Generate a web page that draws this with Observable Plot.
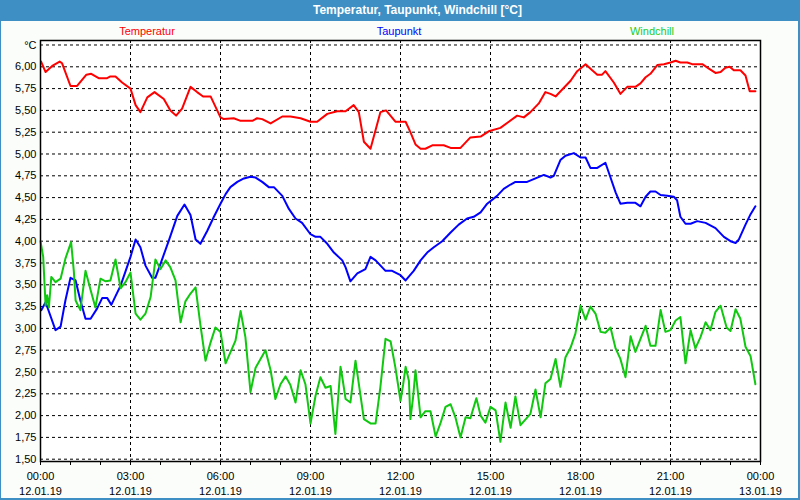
<!DOCTYPE html>
<html>
<head>
<meta charset="utf-8">
<script src="https://cdn.jsdelivr.net/npm/d3@7"></script>
<script src="https://cdn.jsdelivr.net/npm/@observablehq/plot@0.6"></script>
<style>
  html, body { margin: 0; padding: 0; }
  body { width: 800px; height: 500px; position: relative; overflow: hidden; background: #fafdfa; font-family: "Liberation Sans", Arial, sans-serif; }
  #titlebar { position: absolute; left: 0; top: 0; width: 800px; height: 21px; background: #3d8fc4; }
  #title { position: absolute; left: 313px; top: 3px; color: #ffffff; font: bold 12px "Liberation Sans", Arial, sans-serif; white-space: nowrap; }
  #border { position: absolute; left: 0; top: 0; width: 800px; height: 500px; box-sizing: border-box; border-left: 1px solid #3d8fc4; border-right: 2px solid #3d8fc4; border-bottom: 2px solid #3d8fc4; pointer-events: none; }
  .leg { position: absolute; top: 25px; font-size: 11px; white-space: nowrap; transform: translateX(-50%); }
  #chart { position: absolute; left: 0; top: 0; }
</style>
</head>
<body>
<div id="titlebar"><span id="title">Temperatur, Taupunkt, Windchill [°C]</span></div>
<div id="legend"></div>
<div id="chart"></div>
<div id="border"></div>
<script>
// ---- data (hours after 00:00 on 12.01.19, °C) ----
const seriesNames = ["Temperatur", "Taupunkt", "Windchill"];
const seriesColors = ["#ff0000", "#0000ff", "#10c810"];

const tempHours = [0.02,0.17,0.39,0.64,0.72,1.0,1.22,1.53,1.69,1.94,2.22,2.33,2.5,2.72,3.0,3.17,3.33,3.56,3.8,4.11,4.33,4.52,4.72,5.0,5.22,5.42,5.67,6.0,6.11,6.44,6.67,7.06,7.22,7.39,7.67,8.06,8.33,8.67,9.0,9.22,9.56,9.89,10.17,10.44,10.61,10.78,11.0,11.33,11.52,11.83,12.17,12.33,12.5,12.67,12.83,13.06,13.44,13.67,14.0,14.33,14.67,14.94,15.33,15.61,15.89,16.11,16.33,16.61,16.83,17.0,17.17,17.39,17.67,17.89,18.17,18.39,18.56,18.72,18.83,19.11,19.33,19.56,19.83,20.0,20.17,20.33,20.56,20.78,21.0,21.17,21.33,21.56,21.72,22.06,22.28,22.5,22.67,22.83,22.97,23.11,23.33,23.5,23.64,23.83];
const tempValues = [6.06,5.94,6.01,6.06,6.04,5.78,5.78,5.91,5.92,5.87,5.87,5.89,5.89,5.82,5.75,5.56,5.48,5.65,5.71,5.63,5.50,5.44,5.52,5.77,5.71,5.66,5.66,5.42,5.40,5.41,5.38,5.38,5.41,5.40,5.35,5.43,5.43,5.41,5.37,5.37,5.46,5.49,5.49,5.56,5.48,5.14,5.06,5.48,5.50,5.37,5.37,5.25,5.11,5.06,5.06,5.10,5.10,5.07,5.07,5.19,5.20,5.26,5.30,5.37,5.44,5.42,5.48,5.58,5.71,5.69,5.66,5.74,5.84,5.95,6.03,5.96,5.91,5.91,5.95,5.82,5.69,5.77,5.77,5.81,5.88,5.92,6.02,6.03,6.05,6.07,6.05,6.05,6.03,6.03,5.98,5.93,5.94,5.99,6.00,5.96,5.96,5.90,5.72,5.72];

const dewHours = [0.03,0.17,0.5,0.67,0.83,1.0,1.17,1.33,1.5,1.67,1.89,2.06,2.22,2.36,2.67,3.0,3.17,3.33,3.5,3.72,3.83,4.0,4.28,4.56,4.8,5.0,5.17,5.33,5.56,5.78,6.0,6.17,6.33,6.56,6.78,7.0,7.17,7.39,7.61,7.78,8.06,8.28,8.5,8.72,9.0,9.17,9.33,9.56,9.78,10.06,10.17,10.33,10.56,10.83,11.0,11.17,11.5,11.72,12.0,12.17,12.44,12.67,12.89,13.11,13.39,13.67,13.94,14.22,14.44,14.67,14.89,15.22,15.44,15.67,15.83,16.22,16.5,16.78,17.0,17.11,17.33,17.5,17.78,18.0,18.17,18.33,18.56,18.83,19.0,19.17,19.33,19.56,19.83,20.0,20.17,20.33,20.5,20.67,20.89,21.11,21.22,21.33,21.5,21.67,21.89,22.17,22.5,22.78,23.0,23.17,23.28,23.5,23.67,23.83];
const dewValues = [3.21,3.30,2.98,3.02,3.32,3.58,3.55,3.32,3.11,3.11,3.23,3.35,3.35,3.27,3.49,3.82,4.02,3.93,3.72,3.58,3.58,3.74,4.01,4.29,4.42,4.30,4.02,3.97,4.12,4.28,4.43,4.54,4.62,4.68,4.72,4.74,4.73,4.68,4.62,4.62,4.52,4.37,4.26,4.21,4.08,4.05,4.05,3.97,3.87,3.78,3.70,3.54,3.63,3.68,3.82,3.78,3.66,3.66,3.61,3.55,3.66,3.78,3.87,3.93,4.00,4.10,4.19,4.26,4.28,4.33,4.43,4.52,4.60,4.65,4.68,4.68,4.72,4.76,4.73,4.75,4.93,4.98,5.01,4.96,4.96,4.84,4.84,4.90,4.73,4.56,4.43,4.44,4.44,4.40,4.51,4.57,4.57,4.53,4.52,4.51,4.47,4.28,4.20,4.20,4.23,4.21,4.15,4.05,4.00,3.98,4.02,4.19,4.31,4.40];

const chillHours = [0.0,0.09,0.17,0.22,0.28,0.36,0.5,0.67,0.83,1.02,1.11,1.17,1.33,1.5,1.67,1.83,2.0,2.17,2.33,2.5,2.67,2.83,3.0,3.17,3.33,3.5,3.67,3.83,4.0,4.17,4.33,4.5,4.67,4.83,5.0,5.17,5.33,5.5,5.67,5.83,6.0,6.17,6.5,6.67,6.83,7.0,7.17,7.5,7.67,7.83,8.0,8.17,8.33,8.5,8.67,8.83,9.0,9.17,9.33,9.5,9.67,9.83,10.0,10.06,10.17,10.33,10.5,10.78,11.0,11.17,11.33,11.5,11.67,11.83,12.0,12.09,12.17,12.28,12.33,12.42,12.5,12.67,12.83,13.0,13.17,13.33,13.5,13.67,13.83,14.0,14.17,14.33,14.53,14.67,14.83,15.0,15.17,15.33,15.5,15.67,15.83,16.0,16.33,16.5,16.67,16.83,17.0,17.17,17.33,17.5,17.67,17.83,18.0,18.17,18.33,18.5,18.67,18.83,19.0,19.17,19.33,19.5,19.67,19.83,20.0,20.17,20.33,20.5,20.67,20.83,21.0,21.17,21.33,21.5,21.67,21.83,22.0,22.17,22.33,22.5,22.67,22.87,23.0,23.17,23.33,23.5,23.67,23.83];
const chillValues = [4.00,3.82,3.26,3.38,3.24,3.59,3.53,3.57,3.80,3.99,3.66,3.32,3.21,3.66,3.44,3.24,3.57,3.54,3.55,3.79,3.46,3.53,3.64,3.17,3.10,3.17,3.36,3.79,3.68,3.78,3.70,3.55,3.07,3.31,3.40,3.47,3.04,2.63,2.84,3.01,2.96,2.60,2.86,3.20,2.90,2.27,2.55,2.75,2.52,2.19,2.36,2.45,2.35,2.15,2.52,2.36,1.91,2.23,2.44,2.32,2.34,1.79,2.56,2.44,2.19,2.15,2.63,1.96,1.91,1.91,2.33,2.88,2.85,2.55,2.17,2.36,2.56,2.40,1.96,2.21,2.52,1.98,2.05,2.05,1.76,1.91,2.10,2.13,1.98,1.75,1.98,1.97,2.20,2.00,1.92,2.10,2.06,1.70,2.15,1.86,2.22,1.89,2.02,2.30,1.98,2.37,2.42,2.65,2.33,2.67,2.78,2.94,3.26,3.10,3.25,3.17,2.96,2.95,3.01,2.77,2.65,2.44,2.91,2.73,2.88,3.03,2.80,2.80,3.21,2.96,2.98,3.09,3.13,2.60,2.98,2.77,2.90,3.07,2.98,3.19,3.26,3.01,2.97,3.22,3.11,2.79,2.68,2.36];

// ---- axis ticks / labels ----
const hourTicks = [0,1,2,3,4,5,6,7,8,9,10,11,12,13,14,15,16,17,18,19,20,21,22,23,24];
const labelHours = [0,3,6,9,12,15,18,21,24];
const labelTimes = ["00:00","03:00","06:00","09:00","12:00","15:00","18:00","21:00","00:00"];
const labelDates = ["12.01.19","12.01.19","12.01.19","12.01.19","12.01.19","12.01.19","12.01.19","12.01.19","13.01.19"];
const xGridHours = [3,6,9,12,15,18,21];
const yTicks = [1.5,1.75,2.0,2.25,2.5,2.75,3.0,3.25,3.5,3.75,4.0,4.25,4.5,4.75,5.0,5.25,5.5,5.75,6.0,6.25];
const yTickLabels = ["1,50","1,75","2,00","2,25","2,50","2,75","3,00","3,25","3,50","3,75","4,00","4,25","4,50","4,75","5,00","5,25","5,50","5,75","6,00","°C"];
const legendCenters = [147, 399, 652];

// ---- build tables ----
const toRows = (hs, vs, s) => hs.map((h, i) => ({h, v: vs[i], s}));
const tempRows = toRows(tempHours, tempValues, seriesNames[0]);
const dewRows = toRows(dewHours, dewValues, seriesNames[1]);
const chillRows = toRows(chillHours, chillValues, seriesNames[2]);
const xLabelMap = new Map(labelHours.map((h, i) => [h, labelTimes[i] + "\n" + labelDates[i]]));
const yLabelMap = new Map(yTicks.map((v, i) => [v, yTickLabels[i]]));

// legend
const leg = document.getElementById("legend");
seriesNames.forEach((n, i) => {
  const s = document.createElement("span");
  s.className = "leg";
  s.textContent = n;
  s.style.left = legendCenters[i] + "px";
  s.style.color = i === 2 ? "#22cc22" : seriesColors[i];
  leg.appendChild(s);
});

const dash = "3,3";
const chart = Plot.plot({
  width: 800,
  height: 500,
  marginLeft: 40,
  marginRight: 40,
  marginTop: 40,
  marginBottom: 39,
  x: {domain: [0, 24], axis: null},
  y: {domain: [1.4736, 6.3016], axis: null},
  style: {background: "transparent", fontFamily: "'Liberation Sans', Arial, sans-serif", fontSize: "11px", color: "black", overflow: "visible"},
  marks: [
    Plot.frame({fill: "white", stroke: null}),
    Plot.ruleY(yTicks, {y: d => d, stroke: "black", strokeWidth: 1, strokeDasharray: dash}),
    Plot.ruleX(xGridHours, {x: d => d, stroke: "black", strokeWidth: 1, strokeDasharray: dash}),
    Plot.line(tempRows, {x: "h", y: "v", stroke: seriesColors[0], strokeWidth: 2}),
    Plot.line(dewRows, {x: "h", y: "v", stroke: seriesColors[1], strokeWidth: 2}),
    Plot.line(chillRows, {x: "h", y: "v", stroke: seriesColors[2], strokeWidth: 2}),
    Plot.frame({stroke: "black", strokeWidth: 1.5}),
    Plot.axisX(hourTicks, {tickSize: 4, tickFormat: () => "", label: null}),
    Plot.axisX(labelHours, {tickSize: 4, tickPadding: 4, tickFormat: d => xLabelMap.get(d), lineHeight: 1.36, fontSize: 11, label: null}),
    Plot.axisY(yTicks, {tickSize: 0, tickPadding: 4, tickFormat: d => yLabelMap.get(d), fontSize: 11, label: null})
  ]
});
document.getElementById("chart").appendChild(chart);
</script>
</body>
</html>
